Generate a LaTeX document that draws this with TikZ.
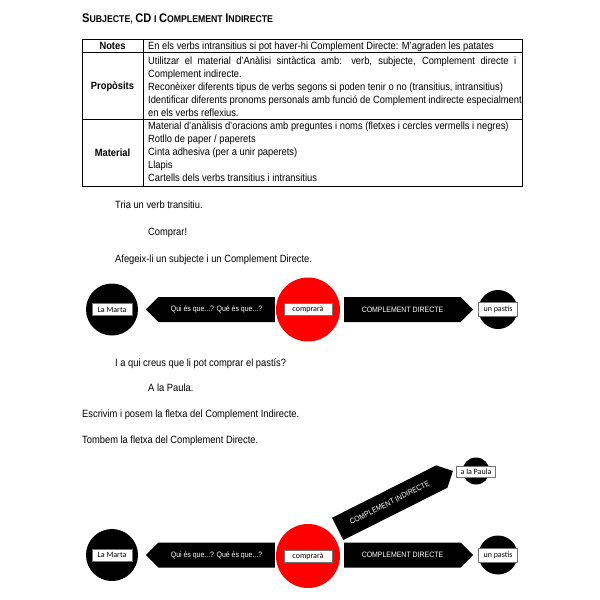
\documentclass[tikz,border=0pt]{standalone}
\usepackage{fontspec}
\setmainfont{Liberation Sans}[FakeStretch=0.89]
\newfontfamily\etiqfont{Carlito}
\usetikzlibrary{shapes.arrows,positioning}
\newcommand{\versaleta}[2]{{\fontsize{12.5}{14}\selectfont #1}{\fontsize{9.8}{12}\selectfont #2}}

\begin{document}
\begin{tikzpicture}[x=1pt, y=-1pt,
  txt/.style={anchor=base west, inner sep=0pt, font=\fontsize{10.5}{13}\selectfont},
  capcol/.style={txt, anchor=base, font=\fontsize{10.5}{13}\selectfont\bfseries},
  subj/.style={circle, fill=black, inner sep=0pt},
  verb/.style={circle, fill=red, inner sep=0pt, minimum size=64pt},
  etiq/.style={draw=black!55, fill=white, inner sep=0pt, minimum height=12pt,
               font=\etiqfont\fontsize{8}{9}\selectfont},
  fletxa/.style={single arrow, fill=black, text=white, single arrow head extend=0pt,
                 minimum width=25pt, minimum height=129pt, inner sep=1pt,
                 font=\fontsize{7.8}{9}\selectfont}]
\useasboundingbox[fill=white] (0,0) rectangle (600,600);

% titol
\node[txt] (titol) at (82,22) {\bfseries\versaleta{S}{UBJECTE,} \versaleta{CD}{} \versaleta{}{I} \versaleta{C}{OMPLEMENT} \versaleta{I}{NDIRECTE}};

% taula
\draw (82,39) rectangle (522,186);
\draw (82,52.5) -- (522,52.5) (82,119) -- (522,119) (143,39) -- (143,186);
\node[capcol] (notes) at (112.5,49.5) {Notes};
\node[capcol] (prop) at (112.5,89.5) {Propòsits};
\node[capcol] (mat) at (112.5,156) {Material};
\node[txt] (notesT) at (148,49.5) {En els verbs intransitius si pot haver-hi Complement Directe: M'agraden les patates};
\foreach \t [count=\i] in {%
  {\makebox[368pt][s]{Utilitzar el material d'Anàlisi sintàctica amb: verb, subjecte, Complement directe i}},
  {Complement indirecte.},
  {Reconèixer diferents tipus de verbs segons si poden tenir o no (transitius, intransitius)},
  {Identificar diferents pronoms personals amb funció de Complement indirecte especialment},
  {en els verbs reflexius.}}
  \node[txt] (prop\i) at (148,{51+13*\i}) {\t};
\foreach \t [count=\i] in {%
  {Material d'anàlisis d'oracions amb preguntes i noms (fletxes i cercles vermells i negres)},
  {Rotllo de paper / paperets},
  {Cinta adhesiva (per a unir paperets)},
  {Llapis},
  {Cartells dels verbs transitius i intransitius}}
  \node[txt] (mat\i) at (148,{116.5+13*\i}) {\t};

% consignes
\node[txt] (tria) at (115,208) {Tria un verb transitiu.};
\node[txt] (comprar) at (148,235) {Comprar!};
\node[txt] (afegeix) at (115,262) {Afegeix-li un subjecte i un Complement Directe.};
\node[txt] (aqui) at (115,366) {I a qui creus que li pot comprar el pastís?};
\node[txt] (paula) at (148,391.5) {A la Paula.};
\node[txt] (escrivim) at (82,417.5) {Escrivim i posem la fletxa del Complement Indirecte.};
\node[txt] (tombem) at (82,443.5) {Tombem la fletxa del Complement Directe.};

% primera frase
\node[fletxa, shape border rotate=180, anchor=tail] (preg1) at (275,309.5) {Qui és que...? Qué és que...?};
\node[fletxa, anchor=tail] (fcd1) at (344,309.5) {COMPLEMENT DIRECTE};
\node[subj, minimum size=52pt] (marta1) at (112,309.5) {};
\node[etiq, minimum width=40pt] (martaE1) at (marta1) {La Marta};
\node[verb] (verb1) at (308,309.5) {};
\node[etiq, minimum width=48pt] (verbE1) at (verb1) {comprarà};
\node[subj, minimum size=39pt] (cd1) at (498,309.5) {};
\node[etiq, minimum width=39pt, minimum height=14pt] (cdE1) at (cd1) {un pastís};

% segona frase
\node[fletxa, shape border rotate=180, anchor=tail] (preg2) at (275,555) {Qui és que...? Qué és que...?};
\node[fletxa, anchor=tail] (fcd2) at (344,555) {COMPLEMENT DIRECTE};
\node[fletxa, rotate=26.7, anchor=tail] (fci2) at (337.5,529) {COMPLEMENT INDIRECTE};
\node[subj, minimum size=52pt] (marta2) at (112,555) {};
\node[etiq, minimum width=40pt] (martaE2) at (marta2) {La Marta};
\node[verb] (verb2) at (308,556) {};
\node[etiq, minimum width=48pt] (verbE2) at (verb2) {comprarà};
\node[subj, minimum size=39pt] (cd2) at (498,555) {};
\node[etiq, minimum width=39pt, minimum height=14pt] (cdE2) at (cd2) {un pastís};
\node[subj, minimum size=27pt] (ci2) at (476,471) {};
\node[etiq, minimum width=39pt, minimum height=11pt] (ciE2) at (476,472) {a la Paula};
\end{tikzpicture}
\end{document}
